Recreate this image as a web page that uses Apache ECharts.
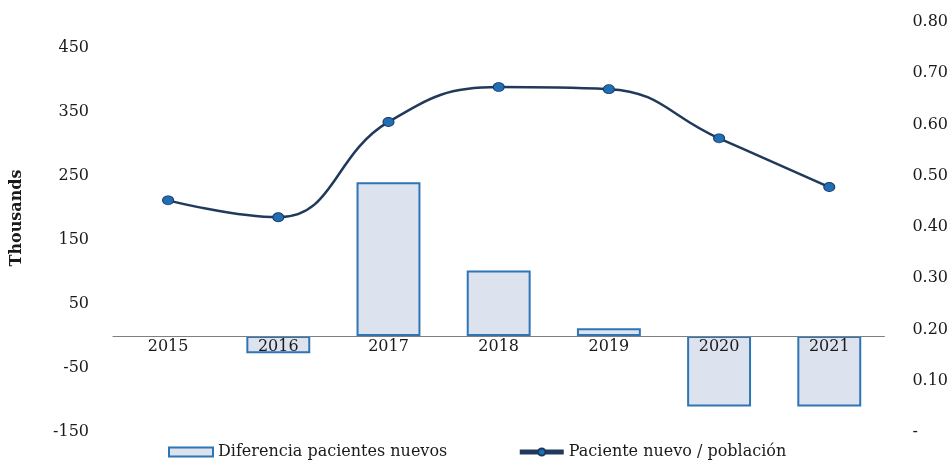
<!DOCTYPE html>
<html>
<head>
<meta charset="utf-8">
<script src="https://cdn.jsdelivr.net/npm/echarts@6/dist/echarts.min.js"></script>
<style>
  html, body { margin: 0; padding: 0; background: #fff; }
  #chart { width: 951px; height: 468px; }
</style>
</head>
<body>
<div id="chart"></div>
<script>
// datos
let years = ['2015', '2016', '2017', '2018', '2019', '2020', '2021'];
let diferencia = [null, -27, 240, 102, 12, -110, -110];      // miles
let ratio = [0.452, 0.419, 0.605, 0.673, 0.669, 0.573, 0.478];
let barName = 'Diferencia pacientes nuevos';
let lineName = 'Paciente nuevo / población';

let font = 'DejaVu Serif';

function initChart() {
    let chart = echarts.init(document.getElementById('chart'));
    let option = {
        animation: false,
        textStyle: { fontFamily: font, color: '#1a1a1a' },
        grid: { left: 113, right: 66, top: 22, bottom: 36 },
        legend: {
            bottom: 3,
            left: 163,
            itemGap: 70,
            itemWidth: 44,
            itemHeight: 9,
            textStyle: { fontFamily: font, fontSize: 16, color: '#1a1a1a' },
            data: [
                { name: barName, icon: 'rect' },
                { name: lineName, lineStyle: { width: 5 } }
            ]
        },
        xAxis: {
            type: 'category',
            data: years,
            z: 10,
            axisTick: { show: false },
            axisLine: { onZero: true, lineStyle: { color: '#7f7f7f', width: 1 } },
            // etiquetas pegadas a la linea del cero, encima de las barras
            axisLabel: { fontFamily: font, fontSize: 16, color: '#1a1a1a', margin: -93 }
        },
        yAxis: [{
            type: 'value',
            min: -150,
            max: 490,
            interval: 50,
            name: 'Thousands',
            nameLocation: 'middle',
            nameGap: 88,
            nameRotate: 90,
            nameTextStyle: { fontFamily: font, fontSize: 16, fontWeight: 'bold', color: '#1a1a1a', padding: [0, 0, 0, 18] },
            splitLine: { show: false },
            axisLine: { show: false },
            axisTick: { show: false },
            axisLabel: {
                fontFamily: font, fontSize: 16, color: '#1a1a1a', margin: 24,
                formatter: v => (Math.abs(v % 50) < 1e-6 && Math.abs(v % 100) > 1e-6) ? String(v) : ''
            }
        }, {
            type: 'value',
            min: 0,
            max: 0.8,
            interval: 0.1,
            splitLine: { show: false },
            axisLine: { show: false },
            axisTick: { show: false },
            axisLabel: {
                fontFamily: font, fontSize: 16, color: '#1a1a1a', margin: 28,
                formatter: v => v === 0 ? '-' : v.toFixed(2)
            }
        }],
        series: [{
            name: barName,
            type: 'bar',
            data: diferencia,
            barWidth: '58%',
            itemStyle: { color: '#dce3ef', borderColor: '#2e75b6', borderWidth: 2 }
        }, {
            name: lineName,
            type: 'line',
            yAxisIndex: 1,
            data: ratio,
            smooth: 0.45,
            symbol: 'circle',
            symbolSize: [11, 9],
            lineStyle: { color: '#213a5c', width: 2.5 },
            itemStyle: { color: '#1f6fb8', borderColor: '#1d3a5f', borderWidth: 1 }
        }]
    };
    chart.setOption(option);
}
initChart();
</script>
</body>
</html>
